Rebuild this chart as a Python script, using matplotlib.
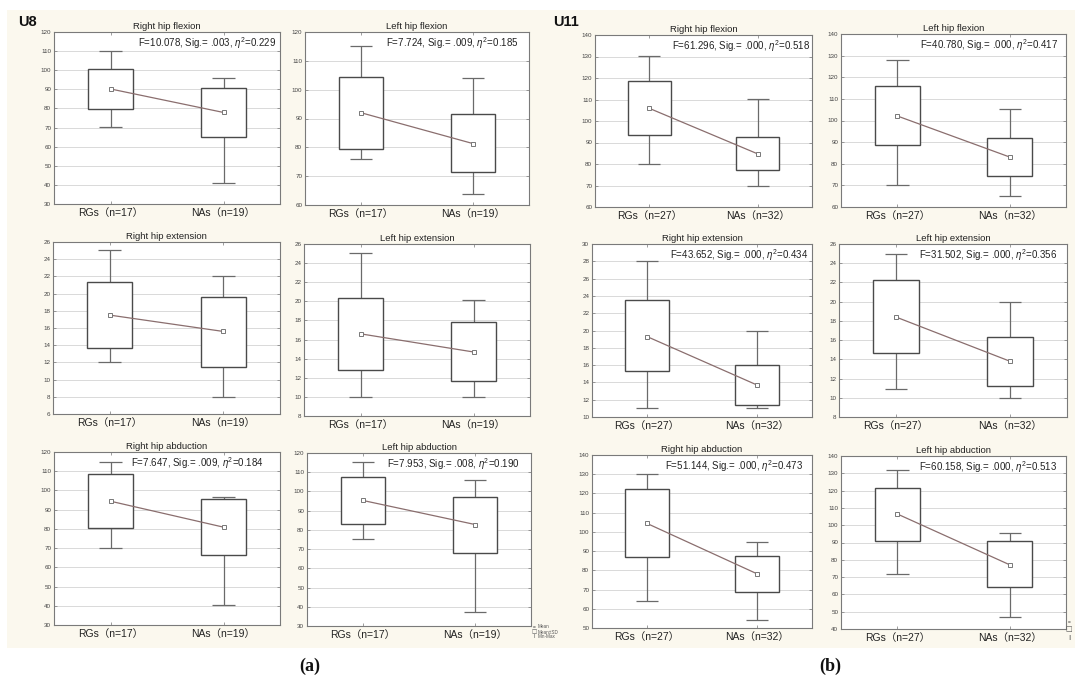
import matplotlib
matplotlib.use("Agg")
import matplotlib.pyplot as plt
import numpy as np

plt.rcParams['font.family'] = ['Liberation Sans', 'Noto Sans CJK SC', 'DejaVu Sans']
plt.rcParams['mathtext.fontset'] = 'custom'
plt.rcParams['mathtext.it'] = 'Liberation Sans:italic'
plt.rcParams['mathtext.rm'] = 'Liberation Sans'

# ---------------- data (row-major: 3 rows x 4 columns; cols 0-1 = U8, cols 2-3 = U11) ----------
titles = ["Right hip flexion", "Left hip flexion", "Right hip flexion", "Left hip flexion",
          "Right hip extension", "Left hip extension", "Right hip extension", "Left hip extension",
          "Right hip abduction", "Left hip abduction", "Right hip abduction", "Left hip abduction"]
stats = ["F=10.078, Sig.= .003, $\\mathit{\\eta}^2$=0.229",
         "F=7.724, Sig.= .009, $\\mathit{\\eta}^2$=0.185",
         "F=61.296, Sig.= .000, $\\mathit{\\eta}^2$=0.518",
         "F=40.780, Sig.= .000, $\\mathit{\\eta}^2$=0.417",
         "", "",
         "F=43.652, Sig.= .000, $\\mathit{\\eta}^2$=0.434",
         "F=31.502, Sig.= .000, $\\mathit{\\eta}^2$=0.356",
         "F=7.647, Sig.= .009, $\\mathit{\\eta}^2$=0.184",
         "F=7.953, Sig.= .008, $\\mathit{\\eta}^2$=0.190",
         "F=51.144, Sig.= .000, $\\mathit{\\eta}^2$=0.473",
         "F=60.158, Sig.= .000, $\\mathit{\\eta}^2$=0.513"]
y_min = [30, 60, 60, 60, 6, 8, 10, 8, 30, 30, 50, 40]
y_max = [120, 120, 140, 140, 26, 26, 30, 26, 120, 120, 140, 140]
y_step = [10, 10, 10, 10, 2, 2, 2, 2, 10, 10, 10, 10]

rg_min = [70.4, 75.9, 80.2, 70.2, 12.1, 10.0, 11.0, 10.9, 70.2, 75.2, 64.2, 71.9]
rg_lo = [79.8, 79.3, 93.3, 88.5, 13.7, 12.8, 15.3, 14.7, 80.5, 83.0, 86.7, 91.0]
rg_mean = [90.2, 92.0, 105.9, 102.1, 17.5, 16.6, 19.3, 18.4, 94.4, 95.3, 104.4, 106.5]
rg_hi = [100.85, 104.5, 118.6, 115.8, 21.3, 20.4, 23.5, 22.3, 108.8, 107.5, 122.4, 121.7]
rg_max = [110.0, 115.0, 130.4, 127.8, 25.1, 25.1, 28.0, 25.0, 114.8, 115.1, 130.1, 131.7]

na_min = [40.8, 63.8, 69.9, 65.3, 8.0, 10.0, 11.0, 10.0, 40.4, 37.1, 54.2, 46.7]
na_lo = [65.2, 71.35, 77.4, 74.2, 11.5, 11.7, 11.4, 11.2, 66.2, 67.9, 68.9, 64.2]
na_mean = [77.9, 81.3, 84.7, 83.1, 15.6, 14.7, 13.7, 13.8, 80.9, 82.8, 78.2, 77.1]
na_hi = [90.6, 91.6, 92.7, 92.1, 19.6, 17.8, 16.0, 16.3, 95.8, 97.2, 87.6, 90.6]
na_max = [95.8, 103.9, 110.1, 105.2, 22.1, 20.1, 20.0, 20.0, 96.8, 106.1, 95.0, 95.4]

groups_u8 = ["RGs（n=17）", "NAs（n=19）"]
groups_u11 = ["RGs（n=27）", "NAs（n=32）"]

# ---------------- layout (pixels: left, right, top, bottom) ----------------
W, H = 1075, 683
boxes_px = [(54, 280, 32, 204), (305, 529, 32, 205), (595, 812, 35, 207), (841, 1066, 34, 207),
            (53, 280, 242, 414), (304, 530, 244, 416), (592, 812, 244, 417), (839, 1067, 244, 417),
            (54, 280, 452, 625), (307, 531, 453, 626), (592, 812, 455, 628), (841, 1066, 456, 629)]
stat_x = [0.985, 0.955, 0.99, 0.965, 0.96, 0.96, 0.985, 0.955, 0.93, 0.95, 0.96, 0.96]

fig = plt.figure(figsize=(W / 100, H / 100), dpi=100)
fig.patch.set_facecolor('white')
# cream panel background
fig.add_artist(plt.Rectangle((7 / W, 1 - 648 / H), (W - 7) / W, (648 - 10) / H,
                             transform=fig.transFigure, facecolor='#fbf8ee', edgecolor='none', zorder=-10))

box_edge = '#4a4a4a'
whisk = '#6a6a6a'
mean_col = '#8a6e6e'
xpos = np.array([1, 2])

for i in range(12):
    l, r, t, b = boxes_px[i]
    ax = fig.add_axes([l / W, 1 - b / H, (r - l) / W, (b - t) / H])
    ax.set_facecolor('white')
    ax.set_xlim(0.5, 2.5)
    ax.set_ylim(y_min[i], y_max[i])
    ax.set_yticks(np.arange(y_min[i], y_max[i] + 0.001, y_step[i]))
    ax.yaxis.grid(True, color='#d9d9d9', linewidth=0.7)
    ax.set_axisbelow(True)
    mins = [rg_min[i], na_min[i]]
    los = [rg_lo[i], na_lo[i]]
    means = [rg_mean[i], na_mean[i]]
    his = [rg_hi[i], na_hi[i]]
    maxs = [rg_max[i], na_max[i]]
    # whiskers and caps
    ax.vlines(xpos, mins, los, color=whisk, linewidth=0.9, zorder=2)
    ax.vlines(xpos, his, maxs, color=whisk, linewidth=0.9, zorder=2)
    ax.hlines(mins, xpos - 0.1, xpos + 0.1, color=whisk, linewidth=0.9, zorder=2)
    ax.hlines(maxs, xpos - 0.1, xpos + 0.1, color=whisk, linewidth=0.9, zorder=2)
    # boxes (mean +/- SD)
    ax.bar(xpos, np.array(his) - np.array(los), bottom=los, width=0.4,
           facecolor='white', edgecolor=box_edge, linewidth=1.0, zorder=3)
    # mean line
    ax.plot(xpos, means, color=mean_col, linewidth=0.9, marker='s', markersize=3,
            markerfacecolor='white', markeredgecolor='#777777', markeredgewidth=0.7, zorder=4)
    ax.set_xticks(xpos)
    ax.set_xticklabels(groups_u8 if i % 4 < 2 else groups_u11, fontsize=7.5, color='#222222')
    ax.tick_params(axis='y', labelsize=4.5, labelcolor='#444444', direction='in', length=2,
                   right=True, width=0.5, color='#777777', pad=2)
    ax.tick_params(axis='x', direction='in', length=2, top=True, width=0.5, color='#777777', pad=3)
    for s in ax.spines.values():
        s.set_color('#7a7a7a')
        s.set_linewidth(0.8)
    ax.set_title(titles[i], fontsize=6.8, color='#222222', pad=2.5)
    if stats[i]:
        ax.text(stat_x[i], 0.935, stats[i], transform=ax.transAxes, ha='right', va='center',
                fontsize=7, color='#222222')

# group labels
fig.text(18 / W, 1 - 22 / H, "U8", fontsize=10.5, fontweight='bold', va='center', ha='left', color='#111111')
fig.text(553 / W, 1 - 22 / H, "U11", fontsize=10.5, fontweight='bold', va='center', ha='left', color='#111111')

# legend text next to the bottom-middle panel
leg_items = ["Mean", "Mean±SD", "Min-Max"]
leg_y = [627, 632, 637]
for txt, yy in zip(leg_items, leg_y):
    fig.text(538 / W, 1 - yy / H, txt, fontsize=3.3, color='#555555', va='center', ha='left')
fig.text(534 / W, 1 - 627 / H, "▫", fontsize=3, color='#555555', va='center', ha='center', family='DejaVu Sans')
fig.text(534 / W, 1 - 632 / H, "□", fontsize=4, color='#555555', va='center', ha='center', family='DejaVu Sans')
fig.text(534 / W, 1 - 637 / H, "I", fontsize=4, color='#555555', va='center', ha='center')
fig.text(1069 / W, 1 - 622 / H, "▫", fontsize=3, color='#555555', va='center', ha='center', family='DejaVu Sans')
fig.text(1069 / W, 1 - 629 / H, "□", fontsize=5, color='#555555', va='center', ha='center', family='DejaVu Sans')
fig.text(1069 / W, 1 - 639 / H, "I", fontsize=6, color='#555555', va='center', ha='center')

# sub-figure labels
fig.text(310 / W, 1 - 666 / H, "(a)", fontsize=13, fontweight='bold', family='Liberation Serif',
         ha='center', va='center', color='#111111')
fig.text(830 / W, 1 - 666 / H, "(b)", fontsize=13, fontweight='bold', family='Liberation Serif',
         ha='center', va='center', color='#111111')

fig.savefig("out.png", dpi=100)
